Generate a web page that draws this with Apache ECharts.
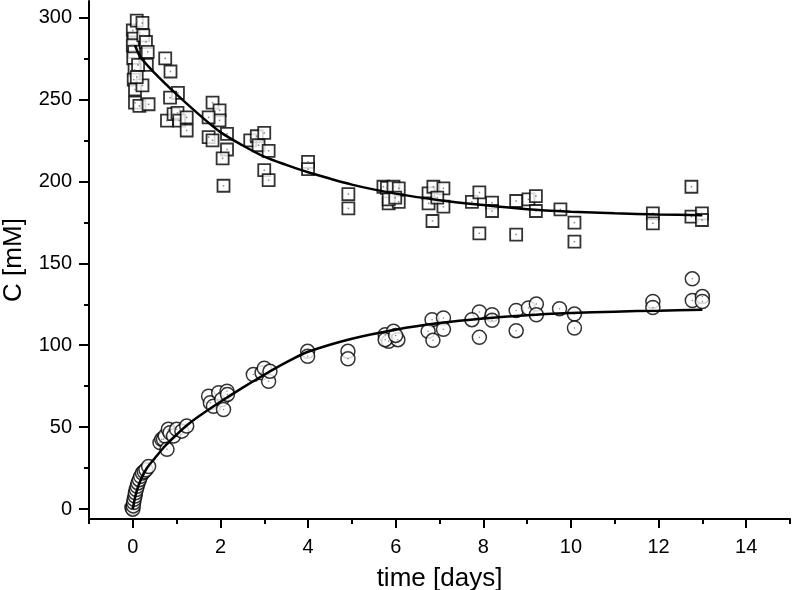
<!DOCTYPE html>
<html>
<head>
<meta charset="utf-8">
<script src="https://cdn.jsdelivr.net/npm/echarts@6/dist/echarts.min.js"></script>
<style>html,body{margin:0;padding:0;background:#fff}#c{width:792px;height:590px}</style>
</head>
<body>
<div id="c"></div>
<script>
// ---- data ----
var squareT = [0.00,0.02,0.00,0.03,0.01,0.04,0.02,0.05,
  0.09,0.22,0.24,0.30,0.34,0.32,0.12,0.22,0.09,0.05,0.15,0.36,
  0.74,0.86,1.03,0.85,0.78,0.93,1.02,1.06,1.23,1.23,
  1.82,1.98,1.98,1.73,1.73,1.82,2.15,2.15,2.05,2.07,
  2.68,2.83,2.87,3.00,3.10,3.00,3.10,
  4.00,4.00,4.92,4.92,
  5.72,5.80,5.95,6.07,5.84,6.07,5.84,5.99,
  6.75,6.86,7.09,6.75,7.09,6.84,6.95,
  7.74,7.91,8.20,8.20,7.91,8.75,8.75,9.03,9.20,9.20,9.76,10.08,10.08,
  11.87,11.87,12.75,12.75,12.99,12.99];
var squareC = [292,287,283,279,275,268,262,256,
  298,296.6,289,285,279,271,271,258.5,263.6,248,246,247,
  275,267,254,251,237,241,241.7,237,239,231,
  248,243.3,237.2,239,227,225,229,219.4,214,197.3,
  225,227.5,222,229.5,218.6,206.8,200.7,
  211.9,207.4,192.2,183.5,
  196.7,196,196.7,195.7,186.6,187.5,189,190,
  192.6,196.7,195.7,186.6,184.5,175.8,190,
  187.5,193.2,187,181.9,168.3,188,167.5,189,191,181.9,182.9,174.8,163.2,
  180.5,174.4,196.7,178.5,180.5,176.4];

var circleT = [-0.02,0.00,0.01,0.02,0.03,0.05,0.06,0.08,0.10,0.12,0.15,0.18,0.22,0.26,0.30,0.36,
  0.62,0.66,0.70,0.74,0.78,0.81,0.85,0.93,1.00,1.12,1.23,
  1.73,1.77,1.84,1.96,2.03,2.07,2.15,2.16,
  2.75,2.95,3.00,3.10,3.13,
  3.99,3.99,4.91,4.91,
  5.76,5.84,5.95,6.05,5.76,6.00,
  6.83,7.09,6.74,6.85,7.09,
  7.91,7.74,8.20,8.20,7.91,8.75,8.75,9.03,9.21,9.21,9.74,10.08,10.08,
  11.87,11.87,12.77,12.77,13.00,13.00];
var circleC = [1,0,2,4,6,8,10,12,14,16,18,20,22,23,24,26,
  40.6,42.6,42.6,44.6,36.5,48.7,46.6,44.6,48.7,47.6,50.7,
  68.9,64.9,62.8,71,66.9,60.8,72,70,
  82.1,83.2,86,78,84.1,
  96.3,93.3,96.3,91.7,
  106.4,102.4,108.5,103.4,103.4,106,
  115.6,116.6,108.5,103,109.7,
  120.3,115.6,118.6,115.2,104.8,121.2,108.9,122.7,125.1,118.6,122.3,119,110.5,
  126.7,123,140.5,127.3,129.7,126.7];

var fitSqT = [0.05,0.17,0.5,1.0,1.5,2.0,2.5,3.0,3.5,4.0,5.0,6.0,7.0,8.0,9.0,10.0,11.0,12.0,13.0];
var fitSqC = [283,276,266,253,241,230,222,215,210,205.5,198,192.5,188.5,185.5,183,181.5,180.5,179.8,179.3];

var fitCiT = [0,0.02,0.05,0.1,0.2,0.32,0.5,0.75,1.0,1.25,1.5,2.0,2.5,3.0,3.5,4.0,5.0,6.0,7.0,8.0,9.0,10.0,11.0,12.0,13.0];
var fitCiC = [0,3,7,12,19,25,31,39,45.5,51.5,56.5,65.5,74,82,89.5,96,104,109.5,113.5,116.3,118.3,119.6,120.5,121.1,121.7];

var xMajor = [0,2,4,6,8,10,12,14];
var xMinor = [-1,1,3,5,7,9,11,13,15];
var yMajor = [0,50,100,150,200,250,300];
var yMinor = [25,75,125,175,225,275];

function zip(a, b) { return a.map(function (v, i) { return [v, b[i]]; }); }

var FONT = 'Liberation Sans';
var chart = echarts.init(document.getElementById('c'), null, {renderer: 'canvas'});

function xAx(major) {
  return {
    type: 'value', min: -1, max: 15, position: 'bottom',
    name: major ? 'time [days]' : '', nameLocation: 'middle', nameGap: 47,
    nameTextStyle: {fontFamily: FONT, fontSize: 26, color: '#000'},
    axisLine: {show: major, onZero: false, lineStyle: {color: '#000', width: 2}},
    axisTick: {show: true, inside: false, length: major ? 9 : 5,
      customValues: major ? xMajor : xMinor, lineStyle: {color: '#000', width: 2}},
    axisLabel: {show: major, customValues: xMajor, margin: 18,
      fontFamily: FONT, fontSize: 20, color: '#000'},
    splitLine: {show: false}
  };
}
function yAx(major) {
  return {
    type: 'value', min: -6, max: 310, position: 'left',
    name: major ? 'C [mM]' : '', nameLocation: 'middle', nameGap: 62, nameRotate: 90,
    nameTextStyle: {fontFamily: FONT, fontSize: 26, color: '#000'},
    axisLine: {show: major, onZero: false, lineStyle: {color: '#000', width: 2}},
    axisTick: {show: true, inside: false, length: major ? 10 : 5,
      customValues: major ? yMajor : yMinor, lineStyle: {color: '#000', width: 2}},
    axisLabel: {show: major, customValues: yMajor, margin: 17,
      fontFamily: FONT, fontSize: 20, color: '#000'},
    splitLine: {show: false}
  };
}

var option = {
  animation: false,
  backgroundColor: '#fff',
  grid: {left: 89, right: 2, top: 1, bottom: 71, containLabel: false, outerBoundsMode: 'none'},
  xAxis: [xAx(true), xAx(false)],
  yAxis: [yAx(true), yAx(false)],
  series: [
    {type: 'scatter', data: zip(squareT, squareC), symbol: 'rect', symbolSize: 12,
      itemStyle: {color: '#fff', borderColor: '#000', borderWidth: 1.8}, z: 2},
    {type: 'scatter', data: zip(squareT, squareC), symbol: 'rect', symbolSize: 1.5,
      itemStyle: {color: '#666'}, z: 3},
    {type: 'scatter', data: zip(circleT, circleC), symbol: 'circle', symbolSize: 14,
      itemStyle: {color: '#fff', borderColor: '#000', borderWidth: 1.5}, z: 2},
    {type: 'scatter', data: zip(circleT, circleC), symbol: 'circle', symbolSize: 1.5,
      itemStyle: {color: '#666'}, z: 3},
    {type: 'line', data: zip(fitSqT, fitSqC), showSymbol: false, smooth: 0.3,
      lineStyle: {color: '#000', width: 2.5}, z: 4},
    {type: 'line', data: zip(fitCiT, fitCiC), showSymbol: false, smooth: 0.3,
      lineStyle: {color: '#000', width: 2.5}, z: 4}
  ]
};
chart.setOption(option);
</script>
</body>
</html>
